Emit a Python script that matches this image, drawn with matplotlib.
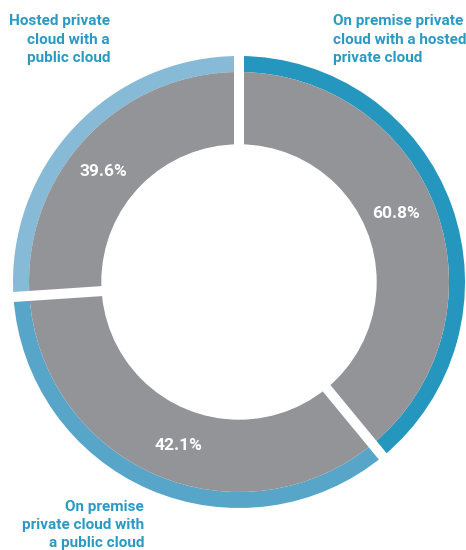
import matplotlib
matplotlib.use("Agg")
import matplotlib.pyplot as plt
import numpy as np

# Data
categories = ["On premise private\ncloud with a hosted\nprivate cloud",
              "On premise\nprivate cloud with\na public cloud",
              "Hosted private\ncloud with a\npublic cloud"]
pct_labels = ["60.8%", "42.1%", "39.6%"]
arc_deg = [140.5, 125.7, 93.8]  # arc spans as drawn in the reference
ring_colors = ["#2596bd", "#57a6c9", "#86bad7"]
gray = "#939498"
text_blue = "#2a9ac4"

fig = plt.figure(figsize=(4.66, 5.5), dpi=100)
ax = fig.add_axes([0, 0, 1, 1])
ax.set_aspect("equal")
ax.axis("off")

R_out = 226
ring_w = 16
R_gray = R_out - ring_w
R_in = 137

ax.pie(arc_deg, radius=R_out, colors=ring_colors, startangle=90, counterclock=False,
       wedgeprops=dict(width=ring_w, linewidth=0))
ax.pie(arc_deg, radius=R_gray, colors=[gray] * 3, startangle=90, counterclock=False,
       wedgeprops=dict(width=R_gray - R_in, linewidth=0))
ax.set_xlim(-239, 227)
ax.set_ylim(-268, 282)

# separators
bounds = 90 - np.concatenate([[0], np.cumsum(arc_deg)])
for b in bounds[:-1]:
    t = np.deg2rad(b)
    ax.plot([0, (R_out + 5) * np.cos(t)], [0, (R_out + 5) * np.sin(t)],
            color="white", lw=7.2, solid_capstyle="butt")
# inner hole
ax.add_patch(plt.Circle((0, 0), R_in, color="white", zorder=3))

font = "Roboto"
# percentage labels
mids = 90 - (np.cumsum(arc_deg) - np.array(arc_deg) / 2) + 3.5
r_lab = (R_in + R_gray) / 2
for m, lab in zip(mids, pct_labels):
    t = np.deg2rad(m)
    ax.text(r_lab * np.cos(t) - 2, r_lab * np.sin(t), lab, color="white",
            fontsize=12.5, fontweight="bold", family=font,
            ha="center", va="center", zorder=5)

# category labels
kw = dict(color=text_blue, fontsize=11, fontweight="bold", family=font,
          va="top", linespacing=1.42)
ax.text(94, 268, categories[0], ha="left", **kw)
ax.text(-129, 268, categories[2], ha="right", multialignment="right", **kw)
kw_b = dict(kw, linespacing=1.36)
ax.text(-95, -218, categories[1], ha="right", multialignment="right", **kw_b)

fig.savefig("out.png", dpi=100)
